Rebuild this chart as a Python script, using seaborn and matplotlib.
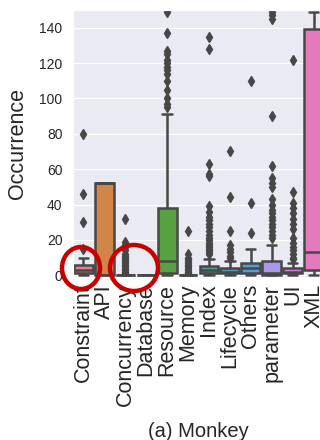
import numpy as np
import pandas as pd
import matplotlib
matplotlib.use("Agg")
import matplotlib.pyplot as plt
from matplotlib.patches import Ellipse
import seaborn as sns

categories = ["Constraint", "API", "Concurrency", "Database", "Resource", "Memory",
              "Index", "Lifecycle", "Others", "parameter", "UI", "XML"]

# Per-app occurrence counts for each category
constraint = [0, 0, 0, 1, 1, 1, 2, 2, 3, 3, 3, 4, 4, 5, 6, 6, 10, 15, 30, 46, 80]
api = [0, 0, 52, 52, 52]
concurrency = [0] * 55 + [1, 2, 3, 4, 5, 6, 7, 8, 9, 10, 11, 12, 14, 16, 17, 19, 32]
database = [0] * 14
resource = ([0] * 8 + [1] * 8 + [2, 2, 2, 3, 3, 3, 4, 4, 5, 5, 6, 6, 7, 7, 8]
            + [10, 12, 14, 16, 18, 20, 22, 24, 26, 28, 30, 32, 34, 36, 38, 91]
            + [95, 97, 100, 105, 110, 114, 116, 118, 120, 122, 125, 127, 137, 149])
memory = [0] * 40 + [1, 2, 3, 4, 5, 6, 7, 8, 9, 10, 12, 25]
index = ([0] * 13 + [1] * 14 + [2] * 13 + [3] * 13 + [4] * 13 + [5] * 13 + [6, 7, 8, 9]
         + [12, 13, 14, 15, 16, 17, 18, 20, 21, 23, 25, 27, 29, 31, 33, 36, 39,
            56, 57, 63, 128, 135])
lifecycle = ([0] * 6 + [1] * 7 + [2] * 12 + [3] * 6 + [4] * 6 + [5, 6, 7, 8]
             + [10, 11, 13, 15, 17, 25, 44, 70])
others = [0, 0, 0, 1, 1, 1, 1, 1, 2, 2, 3, 3, 4, 4, 4, 5, 5, 6, 6, 7, 7, 7,
          9, 11, 13, 15, 24, 41, 110]
parameter = ([0] * 24 + [1] * 23
             + [2, 2, 2, 2, 3, 3, 3, 3, 4, 4, 4, 4, 5, 5, 5, 6, 6, 6, 7, 7, 8, 8, 8]
             + [10, 12, 14, 17]
             + [21, 23, 25, 27, 29, 31, 33, 35, 37, 40, 43, 50, 52, 55, 62, 90, 145, 147, 149])
ui = ([0] * 9 + [1] * 10 + [2] * 18 + [3] * 9 + [4] * 9 + [5, 6, 7]
      + [9, 10, 12, 14, 16, 18, 21, 26, 29, 32, 35, 38, 41, 47, 122])
xml = [0, 1, 3, 8, 13, 60, 139, 145, 149]

yticks = [0, 20, 40, 60, 80, 100, 120, 140]

series = [constraint, api, concurrency, database, resource, memory,
          index, lifecycle, others, parameter, ui, xml]
df = pd.DataFrame({
    "category": np.concatenate([[c] * len(v) for c, v in zip(categories, series)]),
    "occurrence": np.concatenate([np.asarray(v, dtype=float) for v in series]),
})

sns.set_style("darkgrid")
plt.rcParams["font.family"] = ["Liberation Sans", "DejaVu Sans"]

fig = plt.figure(figsize=(3.2, 4.4), dpi=100)
ax = fig.add_axes([73 / 320, 1 - 277 / 440, 251 / 320, 267 / 440])

gray = "#474747"
sns.boxplot(data=df, x="category", y="occurrence", hue="category",
            order=categories, hue_order=categories,
            palette=sns.husl_palette(len(categories)), legend=False,
            width=0.9, linewidth=1.8, linecolor=gray, saturation=0.75,
            fliersize=5, flierprops={"marker": "d", "markerfacecolor": gray,
                                     "markeredgecolor": gray},
            ax=ax)

ax.xaxis.grid(False)
ax.set_ylim(-1, 150)
ax.set_yticks(yticks)
ax.set_yticklabels([str(t) for t in yticks], fontsize=10)
ax.tick_params(axis="y", pad=7.5, length=0)
ax.tick_params(axis="x", pad=5, length=0, labelsize=15.5, labelrotation=90)
ax.set_ylabel("Occurrence", fontsize=15.5, labelpad=8)
ax.set_xlabel("(a) Monkey", fontsize=14.5, labelpad=12)

# highlight rings
for cx, cy, w, h in [(81, 268, 38, 42), (134, 268, 48, 46)]:
    fig.add_artist(Ellipse((cx / 320, 1 - cy / 440), w / 320, h / 440,
                           transform=fig.transFigure, fill=False,
                           edgecolor="#c80000", linewidth=3.2))

fig.savefig("out.png", dpi=100)
